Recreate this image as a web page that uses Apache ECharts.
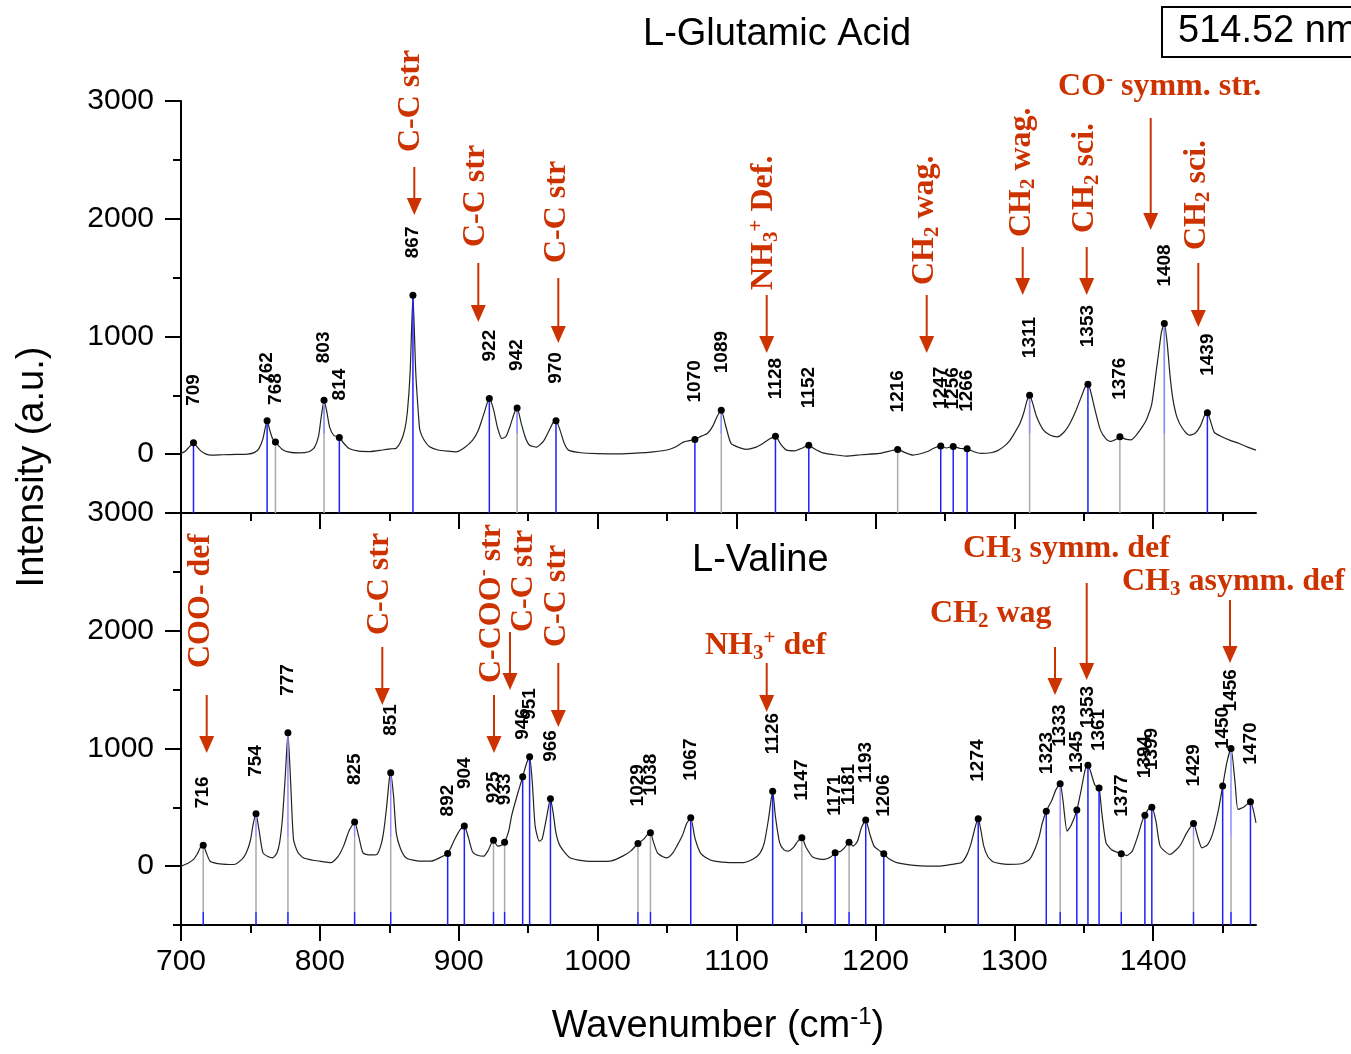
<!DOCTYPE html>
<html>
<head>
<meta charset="utf-8">
<title>L-Glutamic Acid / L-Valine</title>
<script src="https://cdn.jsdelivr.net/npm/echarts@6/dist/echarts.min.js"></script>
<style>
  html, body { margin: 0; padding: 0; background: #fff; }
  #chart { width: 1351px; height: 1054px; }
</style>
</head>
<body>
<div id="chart"></div>
<script>
// axis ticks
var xTicks = [700, 800, 900, 1000, 1100, 1200, 1300, 1400];
var xMinorTicks = [750, 850, 950, 1050, 1150, 1250, 1350, 1450];
var yTicks = [0, 1000, 2000, 3000];

// L-Glutamic acid spectrum [wavenumber, intensity]
var glutamicSpectrum = [
  [700,6],[703,25],[706,62],[709,96],[711,70],[714,30],[718,0],[722,-8],[730,-5],[740,-2],[748,0],
  [753,15],[756,45],[759,130],[762,283],[764,200],[766,130],[768,104],[770,75],[773,40],[777,20],
  [785,10],[792,20],[796,55],[799,150],[801,320],[803,458],[805,360],[807,230],[810,160],[814,142],
  [817,95],[821,48],[828,25],[836,22],[845,35],[851,45],[855,51],[858,100],[861,204],[863,360],
  [865,700],[867,1350],[869,700],[871,330],[872,204],[875,120],[879,62],[885,35],[892,25],[898,20],
  [904,55],[910,119],[914,200],[918,340],[922,473],[925,380],[928,220],[931,133],[934,150],[937,240],
  [940,350],[942,393],[945,260],[948,140],[951,76],[956,60],[961,110],[965,200],[968,270],[970,283],
  [973,200],[976,90],[979,34],[988,12],[1000,5],[1015,2],[1030,10],[1040,20],[1050,35],[1056,60],
  [1062,104],[1066,115],[1070,124],[1075,155],[1079,175],[1083,240],[1086,320],[1089,373],[1092,250],
  [1096,91],[1102,55],[1107,40],[1113,55],[1119,91],[1124,130],[1128,153],[1132,80],[1136,34],
  [1142,28],[1147,50],[1152,76],[1156,45],[1162,11],[1170,-5],[1179,-17],[1190,-5],[1203,6],[1210,25],
  [1216,40],[1221,15],[1227,-8],[1237,20],[1242,50],[1247,70],[1251,52],[1256,65],[1261,48],[1266,45],
  [1271,20],[1276,6],[1283,12],[1288,30],[1293,70],[1297,120],[1300,176],[1304,260],[1307,360],
  [1309,450],[1311,501],[1313,440],[1316,320],[1321,204],[1326,160],[1331,147],[1336,190],[1340,261],
  [1344,360],[1348,480],[1351,570],[1353,594],[1355,530],[1358,380],[1362,204],[1366,130],[1369,108],
  [1373,125],[1376,147],[1380,128],[1384,122],[1388,165],[1392,230],[1395,290],[1399,430],[1402,690],
  [1404,870],[1406,1040],[1408,1109],[1410,950],[1412,680],[1414,480],[1417,317],[1421,220],[1426,161],
  [1430,175],[1434,240],[1437,330],[1439,351],[1441,290],[1444,185],[1449,150],[1455,119],[1462,90],
  [1468,60],[1474,34]
];

// L-Valine spectrum [wavenumber, intensity]
var valineSpectrum = [
  [700,0],[705,25],[709,57],[712,110],[714,160],[716,178],[718,120],[721,42],[728,20],[738,14],
  [744,60],[747,113],[750,220],[752,360],[754,445],[756,320],[759,113],[763,80],[766,71],[769,110],
  [771,199],[773,400],[775,750],[777,1133],[779,700],[781,227],[784,120],[788,71],[795,50],[800,42],
  [808,30],[813,80],[817,170],[821,300],[825,374],[828,250],[831,113],[836,95],[841,99],[844,180],
  [846,300],[848,500],[850,740],[851,793],[853,600],[855,280],[858,150],[862,71],[870,45],[880,42],
  [886,70],[892,108],[897,227],[901,310],[904,340],[907,240],[910,120],[914,90],[918,85],[921,130],
  [925,221],[928,170],[931,180],[933,204],[936,300],[938,425],[942,600],[946,759],[949,880],[951,929],
  [953,700],[955,340],[958,212],[960,230],[963,400],[966,572],[968,450],[970,280],[973,170],[980,71],
  [990,45],[1000,40],[1010,45],[1018,85],[1024,130],[1029,193],[1033,227],[1036,270],[1038,283],
  [1040,210],[1043,113],[1047,80],[1050,70],[1054,110],[1057,170],[1061,260],[1064,360],[1067,411],
  [1070,240],[1074,113],[1079,65],[1084,42],[1095,30],[1105,30],[1112,60],[1117,113],[1120,200],
  [1123,400],[1126,637],[1128,420],[1131,200],[1134,140],[1137,127],[1141,160],[1144,210],[1147,241],
  [1150,160],[1155,75],[1163,57],[1168,80],[1171,113],[1175,127],[1178,160],[1181,204],[1184,170],
  [1187,210],[1190,330],[1193,391],[1196,270],[1199,170],[1203,130],[1206,105],[1210,60],[1216,28],
  [1230,5],[1245,0],[1255,15],[1262,30],[1266,100],[1269,200],[1272,340],[1274,403],[1276,300],
  [1278,170],[1281,80],[1285,35],[1295,15],[1305,20],[1311,57],[1315,150],[1318,255],[1320,360],
  [1323,467],[1327,560],[1330,650],[1333,700],[1335,560],[1338,297],[1341,350],[1345,476],[1348,640],
  [1351,820],[1353,858],[1355,800],[1358,690],[1361,663],[1363,450],[1366,200],[1370,140],[1377,105],
  [1381,90],[1385,130],[1389,260],[1392,380],[1394,433],[1397,490],[1399,501],[1402,380],[1405,170],
  [1412,99],[1419,170],[1424,280],[1429,363],[1432,250],[1435,156],[1439,180],[1443,283],[1447,480],
  [1450,680],[1453,880],[1456,1000],[1459,700],[1461,482],[1465,500],[1470,547],[1472,480],[1474,368]
];

// assigned peaks [wavenumber, intensity, stick colour b=blue g=grey]
var glutamicPeaks = [
  [709,96,'b'],[762,283,'b'],[768,104,'g'],[803,458,'g'],[814,142,'b'],[867,1350,'b'],[922,473,'b'],
  [942,393,'g'],[970,283,'b'],[1070,124,'b'],[1089,373,'g'],[1128,153,'b'],[1152,76,'b'],[1216,40,'g'],
  [1247,70,'b'],[1256,65,'b'],[1266,45,'b'],[1311,501,'g'],[1353,594,'b'],[1376,147,'g'],
  [1408,1109,'g'],[1439,351,'b']
];
var valinePeaks = [
  [716,178,'g'],[754,445,'g'],[777,1133,'g'],[825,374,'g'],[851,793,'g'],[892,108,'b'],[904,340,'b'],
  [925,221,'g'],[933,204,'g'],[946,759,'b'],[951,929,'b'],[966,572,'b'],[1029,193,'g'],[1038,283,'g'],
  [1067,411,'b'],[1126,637,'b'],[1147,241,'g'],[1171,113,'b'],[1181,204,'g'],[1193,391,'b'],
  [1206,105,'b'],[1274,403,'b'],[1323,467,'b'],[1333,700,'g'],[1345,476,'b'],[1353,858,'b'],
  [1361,663,'b'],[1377,105,'g'],[1394,433,'b'],[1399,501,'b'],[1429,363,'g'],[1450,680,'b'],
  [1456,1000,'g'],[1470,547,'b']
];

var RED = '#cc3300';
var BLUE = '#1f1fff';
var GREY = '#aaaaaa';
var LIGHT = '#8e8eff';
var SANS = 'Liberation Sans, Arial, sans-serif';
var SERIF = 'Liberation Serif, Times New Roman, serif';

var chart = echarts.init(document.getElementById('chart'));

function plain(v) { return String(v); }

function xAxes(grid, withLabels) {
  var major = {
    gridIndex: grid, type: 'value', min: 700, max: 1474, position: 'bottom',
    axisLine: { show: true, onZero: false, lineStyle: { color: '#000', width: 2 } },
    axisTick: { show: true, customValues: xTicks, length: 16, lineStyle: { color: '#000', width: 2 } },
    axisLabel: withLabels
      ? { show: true, customValues: xTicks, formatter: plain, fontSize: 30, margin: 22, color: '#000', fontFamily: SANS }
      : { show: false },
    splitLine: { show: false }
  };
  var minor = {
    gridIndex: grid, type: 'value', min: 700, max: 1474, position: 'bottom',
    axisLine: { show: false, onZero: false },
    axisTick: { show: true, customValues: xMinorTicks, length: 8, lineStyle: { color: '#000', width: 2 } },
    axisLabel: { show: false }, splitLine: { show: false }
  };
  return [major, minor];
}

function yAxes(grid) {
  var major = {
    gridIndex: grid, type: 'value', min: -500, max: 3000, position: 'left',
    axisLine: { show: true, onZero: false, lineStyle: { color: '#000', width: 2 } },
    axisTick: { show: true, customValues: yTicks, length: 16, lineStyle: { color: '#000', width: 2 } },
    axisLabel: { show: true, customValues: yTicks, formatter: plain, fontSize: 30, margin: 27, color: '#000', fontFamily: SANS },
    splitLine: { show: false }
  };
  var minor = {
    gridIndex: grid, type: 'value', min: -500, max: 3000, interval: 500, position: 'left',
    axisLine: { show: false, onZero: false },
    axisTick: { show: true, length: 8, lineStyle: { color: '#000', width: 2 } },
    axisLabel: { show: false }, splitLine: { show: false }
  };
  return [major, minor];
}

// stick + dot + rotated number for each assigned peak
function peakRenderer(panel) {
  return function (params, api) {
    var x = api.value(0), v = api.value(1), grey = api.value(2) === 1;
    var kids = [];
    function seg(a, b, color) {
      var p1 = api.coord([x, a]), p2 = api.coord([x, b]);
      kids.push({ type: 'line', shape: { x1: p1[0], y1: p1[1], x2: p2[0], y2: p2[1] },
        style: { stroke: color, lineWidth: 1.5 } });
    }
    if (!grey) {
      seg(v, -500, BLUE);
    } else if (panel === 'top') {
      seg(v, -500, GREY);
      if (v > 175) seg(v, 175, LIGHT);
    } else {
      seg(-390, -500, BLUE);
      seg(Math.min(v, 245), -390, GREY);
      if (v > 245) seg(v, 245, LIGHT);
    }
    var p = api.coord([x, v]);
    kids.push({ type: 'circle', shape: { cx: p[0], cy: p[1], r: 3.5 }, style: { fill: '#000' } });
    kids.push({ type: 'text', x: p[0], y: p[1] - 37, rotation: Math.PI / 2,
      style: { text: String(x), align: 'left', verticalAlign: 'middle',
        font: 'bold 19px ' + SANS, fill: '#000' } });
    return { type: 'group', children: kids };
  };
}

function peakData(list) {
  return list.map(function (p) { return [p[0], p[1], p[2] === 'g' ? 1 : 0]; });
}

var rich = {
  b: { fontFamily: SERIF, fontWeight: 'bold', fontSize: 32, fill: RED, lineHeight: 36 },
  sub: { fontFamily: SERIF, fontWeight: 'bold', fontSize: 21, fill: RED, lineHeight: 14, verticalAlign: 'bottom' },
  sup: { fontFamily: SERIF, fontWeight: 'bold', fontSize: 21, fill: RED, lineHeight: 20, verticalAlign: 'top' }
};

// red band assignments: vertical ones (x = glyph centre, y = text start)
var vertNotes = [
  ['{b|C-C str}', 410.5, 152], ['{b|C-C str}', 476, 247], ['{b|C-C str}', 556.5, 263],
  ['{b|NH}{sub|3}{sup|+}{b| Def.}', 764, 290], ['{b|CH}{sub|2}{b| wag.}', 925, 285],
  ['{b|CH}{sub|2}{b| wag.}', 1021.5, 237], ['{b|CH}{sub|2}{b| sci.}', 1085, 233],
  ['{b|CH}{sub|2}{b| sci.}', 1196.5, 250],
  ['{b|COO- def}', 200.5, 668], ['{b|C-C str}', 380, 635], ['{b|C-COO}{sup|-}{b| str}', 491.5, 683],
  ['{b|C-C str}', 523.5, 632], ['{b|C-C str}', 556.5, 647]
];
var horizNotes = [
  ['{b|CO}{sup|-}{b| symm. str.}', 1058, 87], ['{b|NH}{sub|3}{sup|+}{b| def}', 705, 646],
  ['{b|CH}{sub|3}{b| symm. def}', 963, 549], ['{b|CH}{sub|2}{b| wag}', 930, 614],
  ['{b|CH}{sub|3}{b| asymm. def}', 1122, 582]
];
// arrows: x, start y, tip y
var arrows = [
  [414.3, 167, 215], [478.3, 263, 322], [558.3, 278, 343], [766.7, 295, 353], [926.7, 295, 353],
  [1022.7, 247, 295], [1086.7, 247, 295], [1150.7, 118, 230], [1198.3, 263, 327],
  [206.7, 695, 753], [382.3, 647, 705], [494, 695, 753], [510, 632, 690], [558.3, 663, 727],
  [766.7, 663, 712], [1086.7, 583, 680], [1055, 647, 695], [1230, 600, 663]
];

var graphics = [];
vertNotes.forEach(function (n) {
  graphics.push({ type: 'text', x: n[1], y: n[2], rotation: Math.PI / 2, z: 50,
    style: { text: n[0], rich: rich, fill: RED, align: 'left', verticalAlign: 'middle' } });
});
horizNotes.forEach(function (n) {
  graphics.push({ type: 'text', x: n[1], y: n[2], z: 50,
    style: { text: n[0], rich: rich, fill: RED, align: 'left', verticalAlign: 'middle' } });
});
arrows.forEach(function (a) {
  graphics.push({ type: 'line', z: 50, shape: { x1: a[0], y1: a[1], x2: a[0], y2: a[2] - 12 },
    style: { stroke: RED, lineWidth: 2 } });
  graphics.push({ type: 'polygon', z: 50,
    shape: { points: [[a[0] - 7.5, a[2] - 17], [a[0] + 7.5, a[2] - 17], [a[0], a[2]]] },
    style: { fill: RED } });
});
// titles and axis names
graphics.push(
  { type: 'text', x: 643, y: 35, style: { text: 'L-Glutamic Acid', font: '38px ' + SANS, fill: '#000', align: 'left', verticalAlign: 'middle' } },
  { type: 'text', x: 692, y: 561, style: { text: 'L-Valine', font: '38px ' + SANS, fill: '#000', align: 'left', verticalAlign: 'middle' } },
  { type: 'rect', shape: { x: 1162, y: 7, width: 200, height: 50 }, style: { fill: '#fff', stroke: '#000', lineWidth: 2 } },
  { type: 'text', x: 1178, y: 32, style: { text: '514.52 nm', font: '38px ' + SANS, fill: '#000', align: 'left', verticalAlign: 'middle' } },
  { type: 'text', x: 33, y: 467, rotation: Math.PI / 2,
    style: { text: 'Intensity (a.u.)', font: '38px ' + SANS, fill: '#000', align: 'center', verticalAlign: 'middle' } },
  { type: 'text', x: 718, y: 1027,
    style: { text: '{a|Wavenumber (cm}{s|-1}{a|)}', align: 'center', verticalAlign: 'middle', fill: '#000',
      rich: { a: { fontFamily: SANS, fontSize: 38, fill: '#000', lineHeight: 44 },
              s: { fontFamily: SANS, fontSize: 24, fill: '#000', lineHeight: 24, verticalAlign: 'top' } } } }
);

var xs = xAxes(0, false).concat(xAxes(1, true));
var ys = yAxes(0).concat(yAxes(1));

chart.setOption({
  animation: false,
  backgroundColor: '#fff',
  grid: [
    { left: 181, top: 101, width: 1075, height: 412 },
    { left: 181, top: 513, width: 1075, height: 412 }
  ],
  xAxis: xs,
  yAxis: ys,
  series: [
    { type: 'line', name: 'L-Glutamic Acid', xAxisIndex: 0, yAxisIndex: 0, data: glutamicSpectrum,
      showSymbol: false, smooth: 0.2, lineStyle: { color: '#222', width: 1.2 }, z: 3 },
    { type: 'line', name: 'L-Valine', xAxisIndex: 2, yAxisIndex: 2, data: valineSpectrum,
      showSymbol: false, smooth: 0.2, lineStyle: { color: '#222', width: 1.2 }, z: 3 },
    { type: 'custom', xAxisIndex: 0, yAxisIndex: 0, data: peakData(glutamicPeaks),
      renderItem: peakRenderer('top'), encode: { x: 0, y: 1 }, z: 4 },
    { type: 'custom', xAxisIndex: 2, yAxisIndex: 2, data: peakData(valinePeaks),
      renderItem: peakRenderer('bottom'), encode: { x: 0, y: 1 }, z: 4 }
  ],
  graphic: graphics
});
</script>
</body>
</html>
